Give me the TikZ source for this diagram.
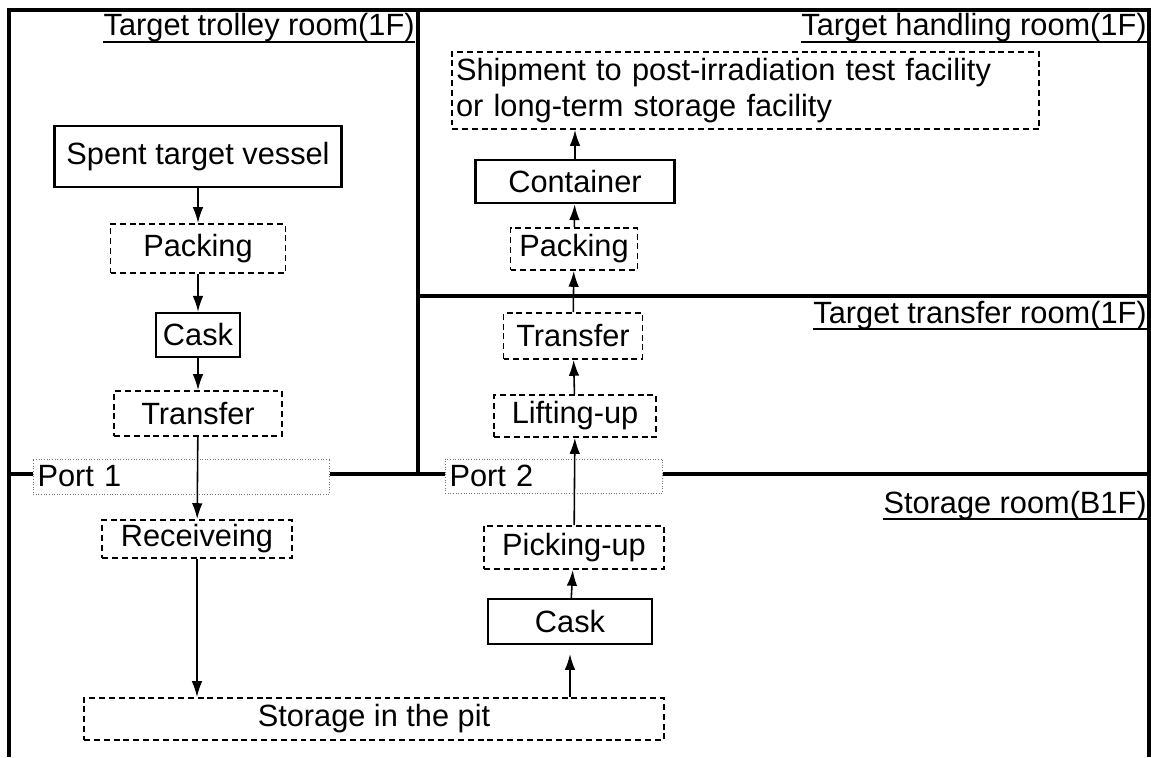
\documentclass[tikz,border=0pt]{standalone}
\usepackage{fontspec}
\setmainfont{Liberation Sans}
\usetikzlibrary{arrows.meta}

\begin{document}
\begin{tikzpicture}[x=0.02cm, y=-0.02cm,
  font=\fontsize{17.5}{20}\selectfont,
  wall/.style={line width=1.9pt},
  solidbox/.style={draw, line width=1.4pt, inner sep=0pt},
  dashbox/.style={draw, line width=1.1pt, dash pattern=on 3.4pt off 2.2pt, inner sep=0pt},
  portbox/.style={draw=black!55, densely dotted, line width=0.5pt, fill=white, inner xsep=2.5pt, inner ysep=0pt, align=left},
  roomlabel/.style={anchor=base east, inner sep=0pt},
  flow/.style={line width=0.9pt, -{Latex[length=9pt,width=6pt]}}]

\useasboundingbox (0,0) rectangle (1151,757);

% Walls
\draw[wall] (9,757) -- (9,10) -- (1149,10) -- (1149,757);
\draw[wall] (418,10) -- (418,474);
\draw[wall] (418,296) -- (1149,296);
\draw[wall] (9,474) -- (1149,474);

% Room names
\node[roomlabel] (trolley) at (415,36) {Target trolley room(1F)};
\node[roomlabel] (handling) at (1147,36) {Target handling room(1F)};
\node[roomlabel] (transfer) at (1147,323) {Target transfer room(1F)};
\node[roomlabel] (storage) at (1147,513) {Storage room(B1F)};
\foreach \r in {trolley,handling,transfer,storage}
  \draw[line width=1.1pt] ([yshift=-3.5pt]\r.base west) -- ([yshift=-3.5pt]\r.base east);

% Ports
\node[portbox, text width=5.76cm, minimum height=0.7cm] (port1) at (181.5,476.5) {Port 1};
\node[portbox, text width=4.18cm, minimum height=0.68cm] (port2) at (554,476) {Port 2};

% Trolley room side
\node[solidbox, minimum width=5.74cm, minimum height=1.22cm] (vessel) at (198,156.5) {Spent target vessel};
\node[dashbox, minimum width=3.5cm, minimum height=0.98cm] (pack1) at (198,248.5) {Packing};
\node[solidbox, minimum width=1.68cm, minimum height=0.88cm] (cask1) at (198,335) {Cask};
\node[dashbox, minimum width=3.36cm, minimum height=0.9cm] (trans1) at (198,413.5) {Transfer};
\node[dashbox, minimum width=3.8cm, minimum height=0.76cm] (recv) at (197,539) {Receiveing};
\node[dashbox, minimum width=11.6cm, minimum height=0.84cm] (pit) at (374,719) {Storage in the pit};

% Way out through port 2
\node[solidbox, minimum width=3.28cm, minimum height=0.9cm] (cask2) at (570,621.5) {Cask};
\node[dashbox, minimum width=3.6cm, minimum height=0.86cm] (pick) at (574,547.5) {Picking-up};
\node[dashbox, minimum width=3.24cm, minimum height=0.84cm] (lift) at (575,416) {Lifting-up};
\node[dashbox, minimum width=2.78cm, minimum height=0.92cm] (trans2) at (573,336) {Transfer};
\node[dashbox, minimum width=2.54cm, minimum height=0.84cm] (pack2) at (574,249) {Packing};
\node[solidbox, minimum width=3.98cm, minimum height=0.86cm] (cont) at (575,181.5) {Container};
\node[dashbox, text width=11.58cm, inner xsep=2.3pt, minimum height=1.54cm, align=left] (ship) at (745.5,90.5)
  {Shipment to post-irradiation test facility\\or long-term storage facility};

% Flow
\draw[flow] (vessel) -- (pack1);
\draw[flow] (pack1) -- (cask1);
\draw[flow] (cask1) -- (trans1);
\draw[flow] (trans1) -- (recv);
\draw[flow] (recv) -- (recv |- pit.north);
\draw[flow, shorten >=5pt] (pit.north -| cask2) -- (cask2);
\draw[flow] (cask2) -- (pick);
\draw[flow] (pick) -- (lift);
\draw[flow] (lift) -- (trans2);
\draw[flow] (trans2) -- (pack2);
\draw[flow] (pack2) -- (cont);
\draw[flow] (cont) -- (cont |- ship.south);

\end{tikzpicture}
\end{document}
